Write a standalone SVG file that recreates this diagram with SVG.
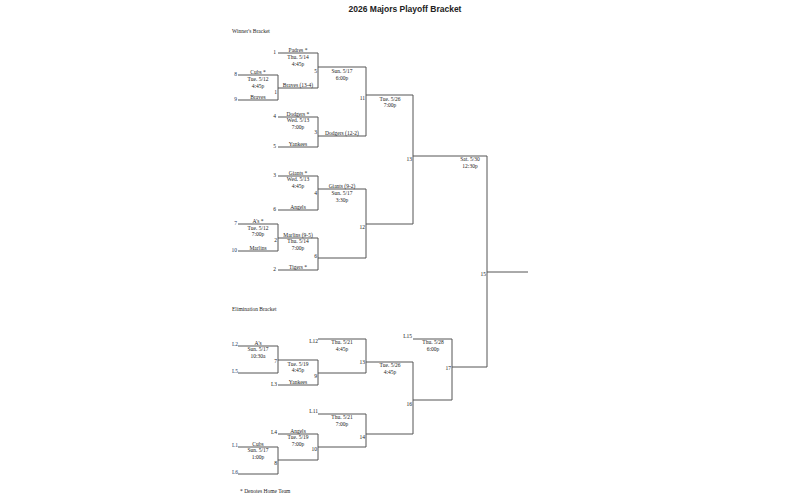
<svg xmlns="http://www.w3.org/2000/svg" width="805" height="500" viewBox="0 0 805 500">
<style>
text{font-family:"Liberation Serif",serif;font-size:5.5px;fill:#222}
.c{text-anchor:middle}
.e{text-anchor:end}
.b{fill:#1f3864}
.t{font-family:"Liberation Sans",sans-serif;font-weight:bold;font-size:8.5px;text-anchor:middle}
path{stroke:#555;stroke-width:1;fill:none}
</style>
<rect width="805" height="500" fill="#fff"/>
<text class="t" x="405" y="12">2026 Majors Playoff Bracket</text>
<text x="232" y="33">Winner's Bracket</text>
<text x="232" y="311">Elimination Bracket</text>
<text x="240" y="493">* Denotes Home Team</text>
<g id="connectors">
<path d="M238 75H278V100H238M278 88H318V53H278M278 117H318V147H278M318 67H366V136H318M366 95H413V224H366M413 156H487V272H528"/>
<path d="M278 176H318V210H278M238 224H278V251H238M278 238H318V270H278M318 189H366V258H318"/>
<path d="M238 346H278V373H238M278 360H318V385H278M318 339H366V373H318M366 362H413V434H366M413 339H452V400H413M452 367H487V272"/>
<path d="M238 447H278V474H238M278 460H318V434H278M318 447H366V414H318"/>
</g>
<g id="winners">
<text class="e b" x="237" y="76">8</text><text class="e b" x="237" y="101">9</text>
<text class="c" x="258" y="74">Cubs *</text><text class="c" x="258" y="81">Tue. 5/12</text><text class="c" x="258" y="88">4:45p</text><text class="c" x="258" y="99">Braves</text>
<text class="e" x="277" y="94">1</text>
<text class="e" x="276" y="54">1</text><text class="c" x="298" y="52">Padres *</text><text class="c" x="298" y="59">Thu. 5/14</text><text class="c" x="298" y="66">4:45p</text><text class="c" x="298" y="87">Braves (13-4)</text>
<text class="e" x="317" y="73">5</text>
<text class="e" x="276" y="118">4</text><text class="c" x="298" y="116">Dodgers *</text><text class="c" x="298" y="122">Wed. 5/13</text><text class="c" x="298" y="129">7:00p</text>
<text class="e" x="276" y="148">5</text><text class="c" x="298" y="146">Yankees</text>
<text class="e" x="317" y="134">3</text>
<text class="c" x="342" y="73">Sun. 5/17</text><text class="c" x="342" y="80">6:00p</text><text class="c" x="342" y="135">Dodgers (12-2)</text>
<text class="e" x="365" y="100">11</text>
<text class="c" x="390" y="101">Tue. 5/26</text><text class="c" x="390" y="107">7:00p</text>
<text class="e" x="412" y="161">13</text>
<text class="c" x="470" y="161">Sat. 5/30</text><text class="c" x="470" y="168">12:30p</text>
<text class="e" x="486" y="276">15</text>
<text class="e" x="276" y="177">3</text><text class="c" x="298" y="175">Giants *</text><text class="c" x="298" y="181">Wed. 5/13</text><text class="c" x="298" y="188">4:45p</text>
<text class="e" x="276" y="211">6</text><text class="c" x="298" y="209">Angels</text>
<text class="e" x="317" y="195">4</text>
<text class="c" x="342" y="188">Giants (9-2)</text><text class="c" x="342" y="195">Sun. 5/17</text><text class="c" x="342" y="202">3:30p</text>
<text class="e" x="365" y="229">12</text>
<text class="e b" x="237" y="225">7</text><text class="e b" x="237" y="252">10</text>
<text class="c" x="258" y="223">A's *</text><text class="c" x="258" y="230">Tue. 5/12</text><text class="c" x="258" y="236">7:00p</text><text class="c" x="258" y="250">Marlins</text>
<text class="e" x="277" y="242">2</text>
<text class="c" x="298" y="237">Marlins (9-5)</text><text class="c" x="298" y="243">Thu. 5/14</text><text class="c" x="298" y="250">7:00p</text>
<text class="e" x="276" y="271">2</text><text class="c" x="298" y="269">Tigers *</text>
<text class="e" x="317" y="258">6</text>
</g>
<g id="elimination">
<text class="e b" x="238" y="346">L2</text><text class="e b" x="238" y="373">L5</text>
<text class="c" x="258" y="345">A's</text><text class="c" x="258" y="351">Sun. 5/17</text><text class="c" x="258" y="358">10:30a</text>
<text class="e" x="277" y="363">7</text>
<text class="c" x="298" y="366">Tue. 5/19</text><text class="c" x="298" y="372">4:45p</text>
<text class="e" x="277" y="386">L3</text><text class="c" x="298" y="384">Yankees</text>
<text class="e" x="317" y="378">9</text>
<text class="e" x="318" y="343">L12</text><text class="c" x="342" y="344">Thu. 5/21</text><text class="c" x="342" y="351">4:45p</text>
<text class="e" x="365" y="364">13</text>
<text class="c" x="390" y="367">Tue. 5/26</text><text class="c" x="390" y="374">4:45p</text>
<text class="e" x="412" y="406">16</text>
<text class="e" x="412" y="338">L15</text><text class="c" x="433" y="344">Thu. 5/28</text><text class="c" x="433" y="351">6:00p</text>
<text class="e" x="451" y="370">17</text>
<text class="e" x="318" y="413">L11</text><text class="c" x="342" y="419">Thu. 5/21</text><text class="c" x="342" y="426">7:00p</text>
<text class="e" x="365" y="439">14</text>
<text class="e" x="277" y="434">L4</text><text class="c" x="298" y="433">Angels</text><text class="c" x="298" y="439">Tue. 5/19</text><text class="c" x="298" y="446">7:00p</text>
<text class="e" x="317" y="451">10</text>
<text class="e b" x="238" y="447">L1</text><text class="e b" x="238" y="474">L6</text>
<text class="c" x="258" y="446">Cubs</text><text class="c" x="258" y="452">Sun. 5/17</text><text class="c" x="258" y="459">1:00p</text>
<text class="e" x="277" y="465">8</text>
</g>
</svg>
